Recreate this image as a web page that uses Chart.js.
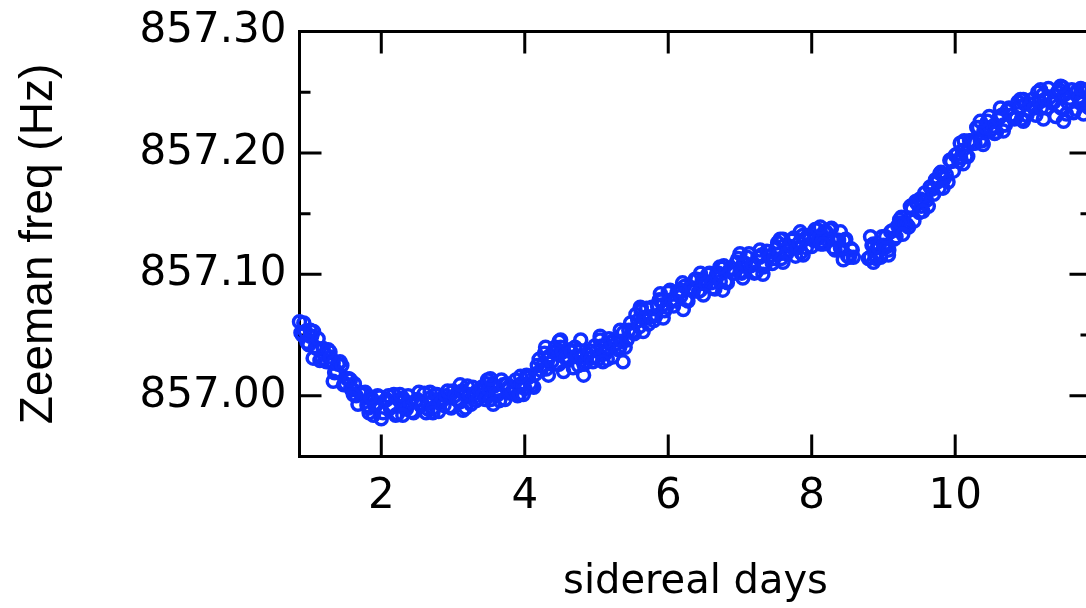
<!DOCTYPE html>
<html>
<head>
<meta charset="utf-8">
<script src="https://cdn.jsdelivr.net/npm/chart.js@4/dist/chart.umd.min.js"></script>
<style>
  html, body { margin: 0; padding: 0; overflow: hidden; background: #fff; }
  canvas { display: block; }
</style>
</head>
<body>
<canvas id="zeeman" width="1100" height="608"></canvas>
<script>
// readings: sidereal day / Zeeman frequency (Hz)
var days = [
  0.86, 0.88, 0.90, 0.92, 0.94, 0.965, 0.99, 1.01, 1.03, 1.055, 1.08, 1.10, 1.12, 1.145, 1.17, 1.19, 1.21, 1.235, 1.26, 1.285,
  1.31, 1.33, 1.35, 1.375, 1.40, 1.425, 1.45, 1.475, 1.50, 1.525, 1.55, 1.575, 1.60, 1.625, 1.65, 1.675, 1.70, 1.725, 1.75, 1.775,
  1.80, 1.825, 1.83, 1.85, 1.875, 1.90, 1.925, 1.95, 1.975, 2.00,
  2.025, 2.05, 2.075, 2.10, 2.125, 2.15, 2.175, 2.20, 2.225, 2.25, 2.275, 2.30, 2.325, 2.35, 2.375, 2.40, 2.425, 2.45, 2.475, 2.50,
  2.525, 2.55, 2.575, 2.60, 2.625, 2.65, 2.675, 2.70, 2.725, 2.75, 2.775, 2.80, 2.825, 2.85, 2.875, 2.90, 2.925, 2.95, 2.975, 3.00,
  3.025, 3.05, 3.075, 3.10, 3.125, 3.15, 3.175, 3.20, 3.225, 3.25, 3.275, 3.30, 3.325, 3.35, 3.375, 3.40, 3.425, 3.45, 3.475, 3.48,
  3.50, 3.525, 3.55, 3.575, 3.60, 3.625, 3.65, 3.675, 3.70, 3.725, 3.75, 3.775, 3.80, 3.825, 3.85, 3.875, 3.90, 3.925, 3.95, 3.975,
  4.00, 4.025, 4.05,
  4.075, 4.10, 4.125, 4.15, 4.175, 4.20, 4.225, 4.25, 4.275, 4.30, 4.325, 4.35, 4.375, 4.40, 4.425, 4.45, 4.475, 4.48, 4.50, 4.525,
  4.55, 4.575, 4.60, 4.625, 4.65, 4.675, 4.70, 4.725, 4.75, 4.775, 4.80, 4.825, 4.85, 4.875, 4.90, 4.925, 4.95, 4.975, 5.00, 5.025,
  5.05, 5.075, 5.10, 5.125, 5.15, 5.175, 5.20, 5.225, 5.25, 5.275, 5.30, 5.325, 5.35, 5.375,
  5.40, 5.425, 5.45, 5.475, 5.50, 5.525, 5.55, 5.575, 5.60, 5.62, 5.625, 5.65, 5.675, 5.70, 5.725, 5.75, 5.775, 5.80, 5.825, 5.85,
  5.875, 5.90, 5.925, 5.95, 5.975, 6.00, 6.025, 6.05, 6.075, 6.10, 6.125, 6.15, 6.175, 6.20, 6.225, 6.25, 6.275, 6.30, 6.325, 6.35,
  6.375, 6.40, 6.425, 6.45, 6.475, 6.50, 6.525, 6.55, 6.575, 6.60, 6.625, 6.65, 6.675, 6.70, 6.725, 6.75, 6.775, 6.80, 6.825, 6.85,
  6.875, 6.90, 6.925, 6.95, 6.975, 7.00, 7.025, 7.05, 7.075, 7.10, 7.125, 7.15, 7.175, 7.20, 7.225, 7.25, 7.275, 7.30, 7.325, 7.35,
  7.375, 7.40, 7.425, 7.45, 7.475, 7.50, 7.525, 7.55, 7.575, 7.60, 7.625, 7.65, 7.675, 7.70, 7.725, 7.75, 7.775, 7.80, 7.825, 7.85,
  7.875, 7.90, 7.925, 7.95, 7.975, 8.00, 8.025, 8.05, 8.075, 8.10, 8.125, 8.15, 8.175, 8.20, 8.225, 8.25, 8.275, 8.30, 8.325, 8.35,
  8.375, 8.40, 8.425, 8.45, 8.475, 8.50, 8.525, 8.55, 8.565, 8.58,
  8.79, 8.815, 8.84, 8.86, 8.88, 8.90, 8.92, 8.94, 8.96, 8.98, 9.00, 9.025, 9.05, 9.075, 9.10, 9.125, 9.15, 9.175, 9.20, 9.225,
  9.25, 9.275, 9.30, 9.325, 9.35, 9.375, 9.40, 9.425, 9.45, 9.475, 9.50, 9.525, 9.55, 9.575, 9.60, 9.625, 9.65, 9.675, 9.70, 9.725,
  9.75, 9.775, 9.80, 9.825, 9.85, 9.875, 9.90, 9.925, 9.95, 9.975, 10.00, 10.025, 10.05, 10.075, 10.10, 10.125, 10.15, 10.175, 10.20, 10.225,
  10.25, 10.275, 10.30, 10.325, 10.35, 10.375, 10.40, 10.425, 10.45, 10.475, 10.50, 10.525, 10.55, 10.575, 10.60, 10.625, 10.65, 10.675, 10.70, 10.725,
  10.75, 10.775, 10.80, 10.825, 10.85, 10.875, 10.90, 10.925, 10.95, 10.975, 11.00, 11.025, 11.05, 11.075, 11.10, 11.125, 11.15, 11.175, 11.20, 11.225,
  11.25, 11.275, 11.30, 11.325, 11.35, 11.375, 11.40, 11.425, 11.45, 11.475, 11.50, 11.525, 11.55, 11.575, 11.60, 11.625, 11.65, 11.675, 11.70, 11.725,
  11.75, 11.775, 11.80, 11.825, 11.85, 11.87, 11.88,
  // points along the upper and lower edges of the band
  1.01, 1.29, 1.57, 1.85, 2.26, 2.68, 3.10, 3.52, 3.94, 4.29, 4.50, 4.78, 5.05, 5.33, 5.61, 5.89, 6.17, 6.45, 6.72, 7.00,
  7.28, 7.56, 7.84, 8.12, 8.40, 8.82, 9.03, 9.23, 9.51, 9.79, 10.07, 10.35, 10.63, 10.91, 11.19, 11.47, 11.75,
  1.05, 1.33, 1.61, 1.89, 2.30, 2.72, 3.14, 3.56, 3.98, 4.33, 4.54, 4.82, 5.09, 5.37, 5.65, 5.93, 6.21, 6.49, 6.76, 7.04,
  7.32, 7.60, 7.88, 8.16, 8.44, 8.86, 9.07, 9.27, 9.55, 9.83, 10.11, 10.39, 10.67, 10.95, 11.23, 11.51, 11.79
];
var freqs = [
  857.061, 857.052, 857.050, 857.060, 857.053, 857.044, 857.042, 857.049, 857.049, 857.053, 857.040, 857.039, 857.047, 857.029, 857.031, 857.039, 857.034, 857.028, 857.038, 857.036,
  857.027, 857.027, 857.019, 857.020, 857.026, 857.028, 857.025, 857.009, 857.010, 857.014, 857.014, 857.006, 857.005, 857.010, 857.000, 856.993, 857.003, 857.001, 857.002, 857.003,
  856.992, 856.990, 856.986, 856.998, 856.997, 856.993, 856.992, 857.000, 856.999, 856.981,
  856.986, 856.996, 856.997, 857.000, 856.990, 856.991, 857.001, 856.984, 856.985, 856.997, 856.995, 856.998, 856.990, 856.989, 857.000, 856.994, 856.987, 856.986, 856.995, 856.997,
  857.003, 856.992, 856.993, 857.002, 856.986, 856.989, 856.998, 856.995, 856.990, 857.001, 857.001, 856.987, 856.995, 856.998, 856.992, 857.000, 857.004, 856.991, 856.990, 857.004,
  857.000, 856.997, 856.996, 856.995, 857.004, 857.002, 856.990, 857.008, 857.001, 856.993, 857.007, 857.002, 856.996, 856.998, 857.005, 857.007, 857.001, 856.997, 857.010, 857.013,
  857.005, 856.997, 857.009, 857.008, 857.002, 857.001, 856.996, 857.013, 857.009, 856.997, 857.010, 857.007, 857.002, 857.003, 857.007, 857.013, 857.000, 857.001, 857.010, 857.009,
  857.006, 857.017, 857.015,
  857.010, 857.008, 857.007, 857.018, 857.025, 857.030, 857.021, 857.025, 857.035, 857.022, 857.031, 857.033, 857.028, 857.036, 857.040, 857.026, 857.026, 857.045, 857.040, 857.036,
  857.032, 857.031, 857.029, 857.038, 857.036, 857.023, 857.040, 857.033, 857.025, 857.037, 857.032, 857.026, 857.028, 857.034, 857.037, 857.031, 857.028, 857.041, 857.037, 857.030,
  857.046, 857.041, 857.036, 857.035, 857.030, 857.047, 857.044, 857.032, 857.046, 857.043, 857.038, 857.040, 857.045, 857.052,
  857.040, 857.046, 857.054, 857.060, 857.053, 857.051, 857.067, 857.062, 857.057, 857.070, 857.072, 857.064, 857.064, 857.072, 857.059, 857.065, 857.073, 857.062, 857.066, 857.074,
  857.079, 857.078, 857.075, 857.070, 857.073, 857.085, 857.087, 857.079, 857.074, 857.078, 857.085, 857.086, 857.082, 857.093, 857.090, 857.079, 857.078, 857.089, 857.089, 857.086,
  857.096, 857.096, 857.086, 857.087, 857.095, 857.095, 857.092, 857.100, 857.101, 857.093, 857.089, 857.088, 857.100, 857.101, 857.094, 857.105, 857.107, 857.094, 857.093, 857.103,
  857.105, 857.101, 857.101, 857.110, 857.113, 857.102, 857.101, 857.109, 857.109, 857.114, 857.117, 857.107, 857.108, 857.101, 857.102, 857.114, 857.114, 857.116, 857.106, 857.108,
  857.119, 857.115, 857.115, 857.109, 857.113, 857.121, 857.126, 857.117, 857.113, 857.129, 857.124, 857.117, 857.120, 857.123, 857.128, 857.130, 857.115, 857.122, 857.126, 857.118,
  857.132, 857.129, 857.122, 857.132, 857.131, 857.123, 857.128, 857.137, 857.137, 857.130, 857.125, 857.127, 857.135, 857.135, 857.128, 857.137, 857.138, 857.122, 857.120, 857.128,
  857.128, 857.122, 857.121, 857.128, 857.129, 857.115, 857.114, 857.121, 857.120, 857.114,
  857.113, 857.114, 857.124, 857.125, 857.116, 857.113, 857.123, 857.122, 857.114, 857.131, 857.124, 857.123, 857.123, 857.120, 857.135, 857.136, 857.129, 857.131, 857.140, 857.145,
  857.147, 857.142, 857.142, 857.141, 857.139, 857.156, 857.154, 857.144, 857.160, 857.158, 857.151, 857.156, 857.161, 857.167, 857.161, 857.156, 857.172, 857.170, 857.166, 857.178,
  857.176, 857.171, 857.184, 857.182, 857.179, 857.182, 857.176, 857.194, 857.193, 857.185, 857.198, 857.199, 857.193, 857.196, 857.202, 857.210, 857.197, 857.197, 857.210, 857.210,
  857.208, 857.208, 857.221, 857.221, 857.210, 857.210, 857.218, 857.221, 857.226, 857.230, 857.219, 857.222, 857.216, 857.217, 857.228, 857.230, 857.231, 857.223, 857.223, 857.235,
  857.237, 857.231, 857.231, 857.228, 857.229, 857.242, 857.238, 857.228, 857.244, 857.240, 857.231, 857.236, 857.240, 857.244, 857.237, 857.231, 857.250, 857.242, 857.237, 857.248,
  857.244, 857.237, 857.253, 857.246, 857.241, 857.242, 857.230, 857.250, 857.252, 857.237, 857.254, 857.248, 857.232, 857.241, 857.245, 857.252, 857.233, 857.236, 857.251, 857.246,
  857.242, 857.241, 857.252, 857.250, 857.238, 857.237, 857.245,
  // upper edge
  857.054, 857.032, 857.013, 856.999, 857.001, 857.003, 857.009, 857.014, 857.016, 857.040, 857.046, 857.046, 857.049, 857.054, 857.073, 857.084, 857.087, 857.101, 857.106, 857.117,
  857.120, 857.129, 857.135, 857.139, 857.135, 857.131, 857.131, 857.142, 857.162, 857.183, 857.208, 857.226, 857.237, 857.244, 857.252, 857.255, 857.253,
  // lower edge
  857.031, 857.012, 857.001, 856.984, 856.984, 856.986, 856.988, 856.993, 857.001, 857.017, 857.020, 857.017, 857.028, 857.028, 857.053, 857.064, 857.071, 857.083, 857.087, 857.097,
  857.100, 857.110, 857.116, 857.125, 857.112, 857.110, 857.116, 857.133, 857.152, 857.171, 857.191, 857.207, 857.218, 857.226, 857.228, 857.226, 857.232
];

var xTicks = [2, 4, 6, 8, 10];
var yTicks = [857.00, 857.10, 857.20, 857.30];
var yMinorTicks = [857.05, 857.15, 857.25];
var xTitle = 'sidereal days';
var yTitle = 'Zeeman freq (Hz)';

var points = [];
for (var i = 0; i < days.length; i++) {
  points.push({x: days[i], y: freqs[i]});
}

// box round the plot with inward ticks on all four sides
var framePlugin = {
  id: 'frame',
  beforeDatasetsDraw: function(chart) {
    var ctx = chart.ctx;
    var a = chart.chartArea;
    var xs = chart.scales.x, ys = chart.scales.y;
    ctx.save();
    ctx.strokeStyle = '#000';
    ctx.lineWidth = 3;
    ctx.beginPath();
    ctx.rect(a.left, a.top, a.right - a.left, a.bottom - a.top);
    xTicks.forEach(function(v) {
      var px = xs.getPixelForValue(v);
      ctx.moveTo(px, a.bottom); ctx.lineTo(px, a.bottom - 22);
      ctx.moveTo(px, a.top); ctx.lineTo(px, a.top + 22);
    });
    yTicks.forEach(function(v) {
      var py = ys.getPixelForValue(v);
      ctx.moveTo(a.left, py); ctx.lineTo(a.left + 22, py);
      ctx.moveTo(a.right, py); ctx.lineTo(a.right - 22, py);
    });
    yMinorTicks.forEach(function(v) {
      var py = ys.getPixelForValue(v);
      ctx.moveTo(a.left, py); ctx.lineTo(a.left + 11, py);
      ctx.moveTo(a.right, py); ctx.lineTo(a.right - 11, py);
    });
    ctx.stroke();
    ctx.restore();
  }
};

var ctx = document.getElementById('zeeman').getContext('2d');
new Chart(ctx, {
  type: 'scatter',
  data: {
    datasets: [{
      data: points,
      pointStyle: 'circle',
      pointRadius: 6,
      pointBorderWidth: 3.5,
      borderColor: '#1030ff',
      backgroundColor: 'rgba(0,0,0,0)',
      clip: false
    }]
  },
  options: {
    responsive: false,
    animation: false,
    devicePixelRatio: 1,
    layout: { autoPadding: false, padding: { top: 31.5, right: 8.5, left: 0, bottom: 0 } },
    plugins: { legend: { display: false }, tooltip: { enabled: false } },
    scales: {
      x: {
        type: 'linear',
        min: 0.86,
        max: 11.9,
        grid: { display: false, drawTicks: false },
        border: { display: false },
        afterBuildTicks: function(scale) {
          scale.ticks = xTicks.map(function(v) { return {value: v}; });
        },
        afterFit: function(scale) {
          scale.height = 151.5;
          scale.paddingLeft = 0;
          scale.paddingRight = 0;
        },
        ticks: {
          autoSkip: false,
          maxRotation: 0,
          padding: 15,
          color: '#000',
          font: { family: 'DejaVu Sans', size: 42 },
          callback: function(v) { return String(v); }
        },
        title: {
          display: true,
          text: xTitle,
          color: '#000',
          font: { family: 'DejaVu Sans', size: 40, lineHeight: 1 },
          padding: { top: 0, bottom: 5 }
        }
      },
      y: {
        type: 'linear',
        min: 856.95,
        max: 857.30,
        grid: { display: false, drawTicks: false },
        border: { display: false },
        afterBuildTicks: function(scale) {
          scale.ticks = yTicks.map(function(v) { return {value: v}; });
        },
        afterFit: function(scale) {
          scale.width = 299.5;
          scale.paddingTop = 0;
          scale.paddingBottom = 0;
        },
        ticks: {
          autoSkip: false,
          padding: 13,
          color: '#000',
          font: { family: 'DejaVu Sans', size: 42 },
          callback: function(v) { return v.toFixed(2); }
        },
        title: {
          display: true,
          text: yTitle,
          color: '#000',
          font: { family: 'Liberation Sans', size: 46, lineHeight: 1 },
          padding: { top: 16, bottom: 0 }
        }
      }
    }
  },
  plugins: [framePlugin]
});
</script>
</body>
</html>
